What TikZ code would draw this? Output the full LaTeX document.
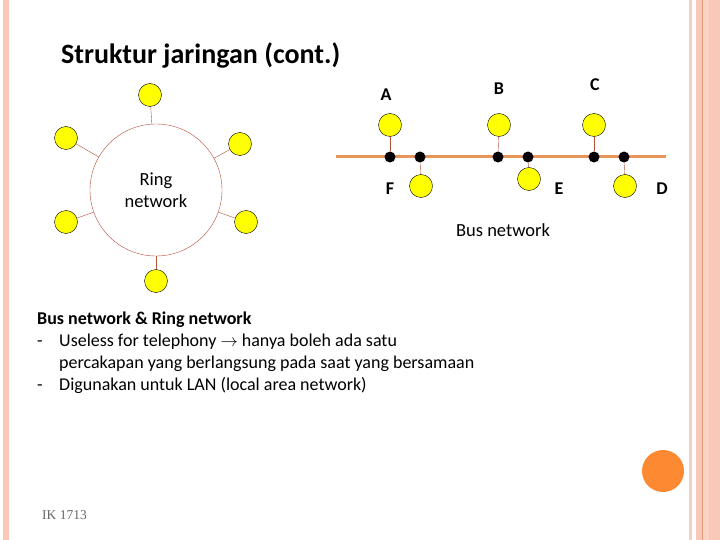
\documentclass[tikz,border=0pt]{standalone}
\usepackage{fontspec}
\setmainfont{Carlito}
\newfontfamily\serifnote{Liberation Serif}
\usepackage{xcolor}
\usetikzlibrary{positioning}

\definecolor{framepink}{HTML}{F9C8B6}
\definecolor{framepale}{HTML}{F3CFC4}
\definecolor{framedark}{HTML}{E69C7C}
\definecolor{ringred}{HTML}{B5503A}
\definecolor{busorange}{HTML}{E8955A}
\definecolor{dotorange}{HTML}{FD8A33}
\definecolor{termyellow}{HTML}{FFFF00}

\begin{document}
\begin{tikzpicture}
[x=1pt, y=-1pt, font=\fontsize{18}{21}\selectfont,
    station/.style={circle, fill=termyellow, draw=black, thin, minimum size=23pt, inner sep=0pt},
    tap/.style={circle, fill=black, minimum size=11pt, inner sep=0pt},
    ringlink/.style={draw=ringred, thin},
    letter/.style={font=\fontsize{18}{20}\selectfont\bfseries, inner sep=0pt},
    note/.style={anchor=west, inner sep=0pt}
    ]
    % page and frame
    \useasboundingbox (0,0) rectangle (720,540);
    \fill[white] (0,0) rectangle (720,540);
    \fill[framepink] (3,0) rectangle (9,540);
    \fill[framepale] (689,0) rectangle (692,540);
    \fill[framepink] (696,0) rectangle (720,540);
    \fill[framepink!80!white] (703,0) rectangle (709,540);
    \fill[framedark] (701.5,0) rectangle (703,540);
    \fill[dotorange] (663,471) circle (21);

    \node[font=\fontsize{28}{32}\selectfont\bfseries, note] (title) at (61,55) {Struktur jaringan (cont.)};

    % ring network
    \node[circle, draw=ringred, thin, minimum size=132pt, align=center, inner sep=0pt,
        font=\fontsize{18.5}{22}\selectfont] (ring) at (156,190) {Ring\\network};
    \node[station] (r1) at (150,95) {};
    \node[station] (r2) at (240,144) {};
    \node[station] (r3) at (246,222) {};
    \node[station] (r4) at (156,281) {};
    \node[station] (r5) at (66,222) {};
    \node[station] (r6) at (66,138) {};
    \foreach \s in {r1,r2,r3,r4,r5,r6}
        \draw[ringlink] (\s) -- (ring);

    % bus network
    \coordinate (busW) at (336,157);
    \coordinate (busE) at (666,157);
    \draw[busorange, line width=3pt] (busW) -- (busE);
    \node[tap] (tA) at (390,157) {};
    \node[tap] (tF) at (420,157) {};
    \node[tap] (tB) at (498,157) {};
    \node[tap] (tE) at (528,157) {};
    \node[tap] (tC) at (594,157) {};
    \node[tap] (tD) at (624,157) {};
    \node[station] (A) at (390,125) {};
    \node[station] (B) at (499,125) {};
    \node[station] (C) at (594,125) {};
    \node[station] (F) at (421,186) {};
    \node[station] (E) at (529,179) {};
    \node[station] (D) at (625,186) {};
    \foreach \s in {A,B,C,D,E,F}
        \draw[ringlink] (\s) -- (t\s);
    \node[letter] (labA) at (386,95) {A};
    \node[letter] (labB) at (499,89) {B};
    \node[letter] (labC) at (595,85) {C};
    \node[letter] (labF) at (390,189) {F};
    \node[letter] (labE) at (559,189) {E};
    \node[letter] (labD) at (662,189) {D};
    \node[font=\fontsize{18.5}{22}\selectfont] (busname) at (503,230) {Bus network};

    % notes
    \node[note, font=\fontsize{18}{21}\selectfont\bfseries] (head) at (37,320) {Bus network \& Ring network};
    \node[note] (line1) at (59,342) {Useless for telephony $\rightarrow$ hanya boleh ada satu};
    \node[note] (line2) at (59,364) {percakapan yang berlangsung pada saat yang bersamaan};
    \node[note] (line3) at (59,385) {Digunakan untuk LAN (local area network)};
    \node[anchor=base west, inner sep=0pt] (dash1) at ([xshift=-22pt]line1.base west) {-};
    \node[anchor=base west, inner sep=0pt] (dash2) at ([xshift=-22pt]line3.base west) {-};

    \node[note, text=black!60, font=\serifnote\fontsize{13.5}{15}\selectfont] (code) at (42,515) {IK 1713};
\end{tikzpicture}
\end{document}
